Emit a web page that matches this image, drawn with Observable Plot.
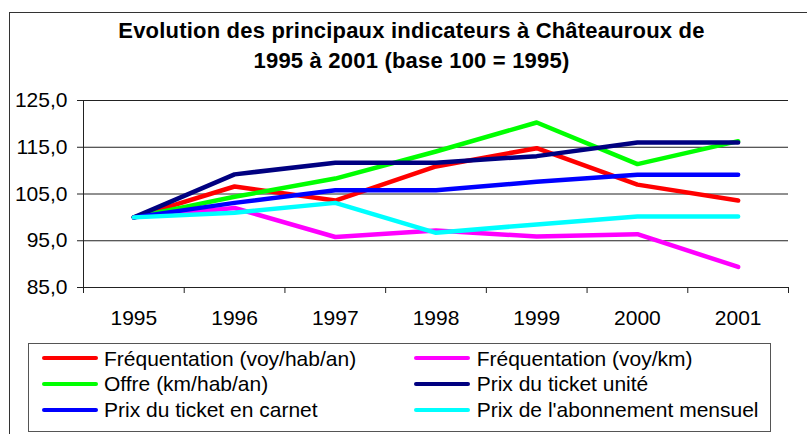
<!DOCTYPE html>
<html>
<head>
<meta charset="utf-8">
<script src="https://cdn.jsdelivr.net/npm/d3@7"></script>
<script src="https://cdn.jsdelivr.net/npm/@observablehq/plot@0.6"></script>
<style>
  html, body { margin: 0; padding: 0; background: #fff; }
  #wrap { position: relative; width: 807px; height: 434px; overflow: hidden; font-family: "Liberation Sans", Arial, sans-serif; color: #000; }
  #frame { position: absolute; left: 9px; top: 12px; width: 830px; height: 450px; border: 1.5px solid #333; box-sizing: border-box; }
  .title { position: absolute; left: 411.5px; transform: translateX(-50%); white-space: nowrap; font-weight: bold; font-size: 22px; letter-spacing: 0.2px; line-height: 30px; }
  #chart { position: absolute; left: 0; top: 80px; }
  #legend { position: absolute; left: 27.5px; top: 342.5px; width: 743px; height: 89.5px; border: 1px solid #555; box-sizing: border-box; }
  .sw { position: absolute; height: 4px; border-radius: 2px; }
  .lt { position: absolute; font-size: 21px; line-height: 26px; white-space: nowrap; }
</style>
</head>
<body>
<div id="wrap">
  <div id="frame"></div>
  <div class="title" style="top:16px">Evolution des principaux indicateurs à Châteauroux de</div>
  <div class="title" style="top:46px">1995 à 2001 (base 100 = 1995)</div>
  <div id="chart"></div>
  <div id="legend-layer"></div>
</div>
<script>
// ---- Data ----
const years = [1995, 1996, 1997, 1998, 1999, 2000, 2001];
const seriesNames = [
  "Fréquentation (voy/hab/an)",
  "Fréquentation (voy/km)",
  "Offre (km/hab/an)",
  "Prix du ticket unité",
  "Prix du ticket en carnet",
  "Prix de l'abonnement mensuel"
];
const seriesColors = ["#FF0000", "#FF00FF", "#00FF00", "#000080", "#0000FF", "#00FFFF"];
const frequentationHab = [100, 106.6, 103.6, 110.9, 114.8, 107.0, 103.6];
const frequentationKm  = [100, 102.0, 95.8, 97.2, 95.9, 96.4, 89.4];
const offre            = [100, 104.4, 108.3, 114.1, 120.3, 111.4, 116.3];
const prixUnite        = [100, 109.2, 111.7, 111.7, 113.1, 116.0, 116.0];
const prixCarnet       = [100, 103.1, 105.8, 105.8, 107.6, 109.1, 109.1];
const prixAbonnement   = [100, 101.0, 103.1, 96.7, 98.5, 100.2, 100.2];
const yTicks = [85, 95, 105, 115, 125];

const seriesValues = [frequentationHab, frequentationKm, offre, prixUnite, prixCarnet, prixAbonnement];
const rows = [];
seriesNames.forEach((name, i) => {
  years.forEach((yr, j) => rows.push({series: name, year: yr, value: seriesValues[i][j]}));
});
const xMin = years[0] - 0.5, xMax = years[years.length - 1] + 0.5;
const boundaries = years.map(y => y - 0.5).concat([xMax]);
const fmt = d => d3.format(".1f")(d).replace(".", ",");

const chart = Plot.plot({
  width: 807,
  height: 260,
  marginTop: 20,
  marginBottom: 53,
  marginLeft: 83,
  marginRight: 19,
  style: {fontFamily: '"Liberation Sans", Arial, sans-serif', fontSize: "21px", color: "#000", background: "transparent", overflow: "visible"},
  x: {domain: [xMin, xMax]},
  y: {domain: [yTicks[0], yTicks[yTicks.length - 1]]},
  color: {domain: seriesNames, range: seriesColors},
  marks: [
    Plot.ruleY(yTicks, {stroke: "#222", strokeWidth: 1}),
    Plot.ruleX([xMin], {stroke: "#222", strokeWidth: 1}),
    Plot.axisY(yTicks, {tickSize: 6, tickPadding: 10, tickFormat: fmt, fontSize: 21, stroke: "#222", strokeOpacity: 1, label: null}),
    Plot.axisX(boundaries, {tickSize: 6, tickFormat: () => "", stroke: "#222", strokeOpacity: 1, label: null}),
    Plot.axisX(years, {tickSize: 0, tickPadding: 23, tickFormat: d => String(d), fontSize: 21, label: null}),
    Plot.line(rows, {x: "year", y: "value", z: "series", stroke: "series", strokeWidth: 4.5, strokeLinecap: "round", strokeLinejoin: "round"})
  ]
});
document.getElementById("chart").appendChild(chart);

// ---- Legend (HTML) ----
const layer = document.getElementById("legend-layer");
const box = document.createElement("div");
box.id = "legend";
layer.appendChild(box);
const rowCenters = [358.3, 384.1, 409.9];
const cols = [{sw: 41.7, w: 56.6, tx: 104}, {sw: 414.3, w: 55.7, tx: 476.7}];
seriesNames.forEach((name, i) => {
  const c = cols[i % 2], r = rowCenters[Math.floor(i / 2)];
  const sw = document.createElement("div");
  sw.className = "sw";
  sw.style.left = c.sw + "px";
  sw.style.width = c.w + "px";
  sw.style.top = (r - 2) + "px";
  sw.style.background = seriesColors[i];
  layer.appendChild(sw);
  const t = document.createElement("div");
  t.className = "lt";
  t.style.left = c.tx + "px";
  t.style.top = (r - 12.8) + "px";
  t.textContent = name;
  layer.appendChild(t);
});
</script>
</body>
</html>
